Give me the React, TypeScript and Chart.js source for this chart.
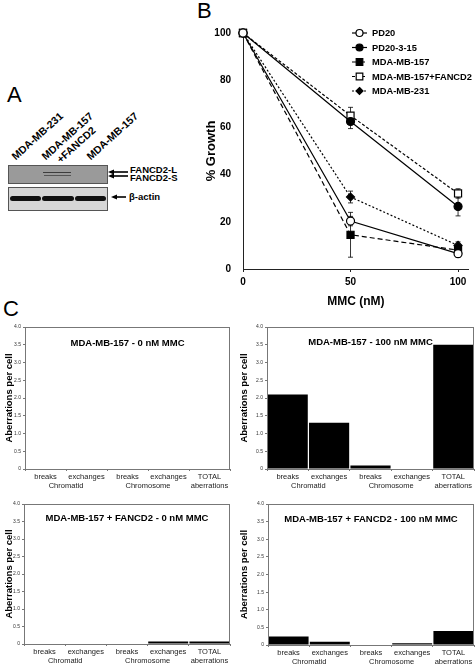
import React, { useEffect, useRef } from 'react';
import { Chart, registerables } from 'chart.js';
Chart.register(...registerables);

const FONT = "'Liberation Sans', Arial, Helvetica, sans-serif";

// ---------- Panel B data ----------
const mmcDoses = [0, 50, 100];
const doseTicks = [0, 50, 100];
const growthTicks = [0, 20, 40, 60, 80, 100];
const seriesNames = ['PD20', 'PD20-3-15', 'MDA-MB-157', 'MDA-MB-157+FANCD2', 'MDA-MB-231'];
const pd20 = [100, 20.3, 6.5];
const pd20Err = [0, 2, 1.5];
const pd20_3_15 = [100, 62.5, 26.5];
const pd20_3_15Err = [0, 3, 4];
const mda157 = [100, 14.5, 8];
const mda157Err = [0, 9.5, 2];
const mda157Fancd2 = [100, 65, 32];
const mda157Fancd2Err = [0, 3.5, 2];
const mda231 = [100, 30.5, 10];
const mda231Err = [0, 2.5, 1.5];

// ---------- Panel C data ----------
const aberrationCategories = ['breaks', 'exchanges', 'breaks', 'exchanges', 'TOTAL'];
const aberrationSubLabels = ['', '', '', '', 'aberrations'];
const aberrationGroups = ['Chromatid', 'Chromosome'];
const aberrationTicks = [0, 0.5, 1, 1.5, 2, 2.5, 3, 3.5, 4];
const mda157_0nM = [0, 0, 0, 0, 0];
const mda157_100nM = [2.1, 1.3, 0.1, 0, 3.5];
const mda157Fancd2_0nM = [0, 0, 0, 0.07, 0.07];
const mda157Fancd2_100nM = [0.24, 0.09, 0, 0.05, 0.4];

function ChartCanvas({ left, top, width, height, makeConfig }: any) {
  const ref = useRef<HTMLCanvasElement | null>(null);
  useEffect(() => {
    if (!ref.current) return;
    const chart = new Chart(ref.current, makeConfig());
    return () => chart.destroy();
  }, []);
  return (
    <canvas
      ref={ref}
      width={width}
      height={height}
      style={{ position: 'absolute', left, top, width, height }}
    />
  );
}

function lineConfig() {
  const values = [pd20, pd20_3_15, mda157, mda157Fancd2, mda231];
  const errors = [pd20Err, pd20_3_15Err, mda157Err, mda157Fancd2Err, mda231Err];
  const styles = [
    { dash: [], point: 'circle', r: 4, fill: '#fff' },
    { dash: [], point: 'circle', r: 4, fill: '#000' },
    { dash: [5, 3], point: 'rect', r: 5, fill: '#000' },
    { dash: [3, 2], point: 'rect', r: 5, fill: '#fff' },
    { dash: [2, 2], point: 'rectRot', r: 4, fill: '#000' },
  ];
  const datasets = values.map((vals, i) => ({
    label: seriesNames[i],
    data: mmcDoses.map((x, j) => ({ x, y: vals[j] })),
    borderColor: '#000',
    borderWidth: 1.2,
    borderDash: styles[i].dash,
    pointStyle: styles[i].point,
    pointRadius: styles[i].r,
    pointBackgroundColor: styles[i].fill,
    pointBorderColor: '#000',
    pointBorderWidth: 1.2,
    clip: false,
    tension: 0,
  }));

  const errorBars = {
    id: 'errorBars',
    beforeDatasetsDraw(chart: any) {
      const { ctx } = chart;
      const xs = chart.scales.x;
      const ys = chart.scales.y;
      ctx.save();
      ctx.strokeStyle = '#000';
      ctx.lineWidth = 0.8;
      values.forEach((vals, i) => {
        vals.forEach((v, j) => {
          const e = errors[i][j];
          if (!e) return;
          const x = xs.getPixelForValue(mmcDoses[j]);
          const y1 = ys.getPixelForValue(v + e);
          const y2 = ys.getPixelForValue(v - e);
          ctx.beginPath();
          ctx.moveTo(x, y1); ctx.lineTo(x, y2);
          ctx.moveTo(x - 2.5, y1); ctx.lineTo(x + 2.5, y1);
          ctx.moveTo(x - 2.5, y2); ctx.lineTo(x + 2.5, y2);
          ctx.stroke();
        });
      });
      ctx.restore();
    },
  };

  const legend = {
    id: 'customLegend',
    afterDraw(chart: any) {
      const { ctx } = chart;
      const x0 = 172, x1 = 187, tx = 192;
      ctx.save();
      ctx.font = `bold 9.3px ${FONT}`;
      ctx.textBaseline = 'middle';
      ctx.fillStyle = '#000';
      seriesNames.forEach((name, i) => {
        const y = 33 + i * 14.5;
        const st = styles[i];
        ctx.strokeStyle = '#000';
        ctx.lineWidth = 1.2;
        ctx.setLineDash(st.dash);
        ctx.beginPath(); ctx.moveTo(x0, y); ctx.lineTo(x1, y); ctx.stroke();
        ctx.setLineDash([]);
        const cx = (x0 + x1) / 2;
        ctx.beginPath();
        if (st.point === 'circle') ctx.arc(cx, y, 3.5, 0, Math.PI * 2);
        else if (st.point === 'rect') ctx.rect(cx - 3.3, y - 3.3, 6.6, 6.6);
        else { ctx.moveTo(cx, y - 3.5); ctx.lineTo(cx + 3.5, y); ctx.lineTo(cx, y + 3.5); ctx.lineTo(cx - 3.5, y); ctx.closePath(); }
        ctx.fillStyle = st.fill; ctx.fill(); ctx.stroke();
        ctx.fillStyle = '#000';
        ctx.fillText(name, tx, y + 0.5);
      });
      ctx.restore();
    },
  };

  return {
    type: 'line',
    data: { datasets },
    plugins: [errorBars, legend],
    options: {
      animation: false,
      responsive: false,
      maintainAspectRatio: false,
      layout: { padding: { top: 33, right: 1, left: 0, bottom: 0 } },
      plugins: { legend: { display: false }, tooltip: { enabled: false } },
      scales: {
        x: {
          type: 'linear',
          min: 0,
          max: 105,
          afterBuildTicks: (s: any) => { s.ticks = doseTicks.map((value) => ({ value })); },
          afterFit: (s: any) => { s.height = 51; },
          grid: { display: true, drawOnChartArea: false, drawTicks: true, tickLength: 3, color: '#222' },
          border: { display: true, color: '#222', width: 1 },
          ticks: { color: '#000', font: { family: FONT, size: 10, weight: 'bold' }, padding: 4, maxRotation: 0 },
          title: { display: true, text: 'MMC (nM)', color: '#000', font: { family: FONT, size: 12, weight: 'bold' }, padding: { top: 0, bottom: 11 } },
        },
        y: {
          min: 0,
          max: 100,
          afterBuildTicks: (s: any) => { s.ticks = growthTicks.map((value) => ({ value })); },
          afterFit: (s: any) => { s.width = 63; },
          grid: { display: false },
          border: { display: true, color: '#222', width: 1 },
          ticks: { color: '#000', font: { family: FONT, size: 10, weight: 'bold' }, padding: 4 },
          title: { display: true, text: '% Growth', color: '#000', font: { family: FONT, size: 13, weight: 'bold' }, padding: { top: 24, bottom: 0 } },
        },
      },
    },
  };
}

function barConfig(values: number[], title: string, yAxisW: number, xAxisH: number, padTop: number, padRight: number, titleDy: number) {
  const decorations = {
    id: 'decor',
    afterDraw(chart: any) {
      const { ctx, chartArea: a } = chart;
      const xs = chart.scales.x;
      ctx.save();
      ctx.strokeStyle = '#777';
      ctx.lineWidth = 1;
      ctx.strokeRect(a.left + 0.5, a.top + 0.5, a.right - a.left - 1, a.bottom - a.top);
      ctx.fillStyle = '#000';
      ctx.font = `bold 9.5px ${FONT}`;
      ctx.textAlign = 'center';
      ctx.textBaseline = 'middle';
      ctx.fillText(title, (a.left + a.right) / 2, a.top + titleDy);
      ctx.font = `7.5px ${FONT}`;
      ctx.fillStyle = '#222';
      aberrationGroups.forEach((g, k) => {
        const x = (xs.getPixelForValue(k * 2) + xs.getPixelForValue(k * 2 + 1)) / 2;
        ctx.fillText(g, x, a.bottom + 16.5);
      });
      ctx.font = `bold 9.5px ${FONT}`;
      ctx.fillStyle = '#000';
      ctx.translate(a.left - yAxisW + 9, (a.top + a.bottom) / 2);
      ctx.rotate(-Math.PI / 2);
      ctx.fillText('Aberrations per cell', 0, 0);
      ctx.restore();
    },
  };
  return {
    type: 'bar',
    data: {
      labels: aberrationCategories.map((c, i) => [c, aberrationSubLabels[i]]),
      datasets: [{ data: values, backgroundColor: '#000', borderWidth: 0, barPercentage: 0.97, categoryPercentage: 1 }],
    },
    plugins: [decorations],
    options: {
      animation: false,
      responsive: false,
      maintainAspectRatio: false,
      layout: { padding: { top: padTop, right: padRight, left: 0, bottom: 0 } },
      plugins: { legend: { display: false }, tooltip: { enabled: false } },
      scales: {
        x: {
          afterFit: (s: any) => { s.height = xAxisH; },
          grid: { display: true, drawOnChartArea: false, offset: true, drawTicks: true, tickLength: 2, color: '#777' },
          border: { display: true, color: '#777' },
          ticks: { color: '#222', font: { family: FONT, size: 7.5 }, padding: 1, maxRotation: 0, autoSkip: false },
        },
        y: {
          min: 0,
          max: 4,
          afterBuildTicks: (s: any) => { s.ticks = aberrationTicks.map((value) => ({ value })); },
          afterFit: (s: any) => { s.width = yAxisW; },
          grid: { display: true, drawOnChartArea: false, drawTicks: true, tickLength: 2, color: '#777' },
          border: { display: true, color: '#777' },
          ticks: { color: '#333', font: { family: FONT, size: 5 }, padding: 2 },
        },
      },
    },
  };
}

function Arrow({ x1, x2, y }: any) {
  return (
    <g>
      <line x1={x1 + 5} y1={y} x2={x2} y2={y} stroke="#000" strokeWidth={1.6} />
      <polygon points={`${x1},${y} ${x1 + 6},${y - 2.6} ${x1 + 6},${y + 2.6}`} fill="#000" />
    </g>
  );
}

function PanelA() {
  const lane = { position: 'absolute' as const, fontFamily: FONT, fontWeight: 'bold' as const, fontSize: 10.5, whiteSpace: 'nowrap' as const, transformOrigin: '0 100%', transform: 'rotate(-42deg)', lineHeight: '11px' };
  return (
    <>
      <div style={{ position: 'absolute', left: 7, top: 84, fontFamily: FONT, fontSize: 22, lineHeight: '22px' }}>A</div>
      <div style={{ ...lane, left: 17, top: 151 }}>MDA-MB-231</div>
      <div style={{ ...lane, left: 47, top: 151 }}>MDA-MB-157</div>
      <div style={{ ...lane, left: 62, top: 154 }}>+FANCD2</div>
      <div style={{ ...lane, left: 92, top: 151 }}>MDA-MB-157</div>
      <div style={{ position: 'absolute', left: 8, top: 165, width: 98, height: 17, background: '#9a9a9a', border: '1px solid #555' }}>
        <div style={{ position: 'absolute', left: 34, top: 5.5, width: 28, height: 1.6, background: 'rgba(30,30,30,0.75)', filter: 'blur(0.4px)' }} />
        <div style={{ position: 'absolute', left: 35, top: 9, width: 27, height: 1.4, background: 'rgba(40,40,40,0.6)', filter: 'blur(0.4px)' }} />
      </div>
      <div style={{ position: 'absolute', left: 8, top: 187, width: 98, height: 22, background: '#d6d6d6', border: '1px solid #555' }}>
        <div style={{ position: 'absolute', left: 1, top: 8, width: 31, height: 5, background: '#111', borderRadius: 3, filter: 'blur(0.6px)' }} />
        <div style={{ position: 'absolute', left: 33, top: 8, width: 32, height: 5, background: '#111', borderRadius: 3, filter: 'blur(0.6px)' }} />
        <div style={{ position: 'absolute', left: 66, top: 8, width: 31, height: 5, background: '#111', borderRadius: 3, filter: 'blur(0.6px)' }} />
      </div>
      <svg style={{ position: 'absolute', left: 0, top: 0 }} width={140} height={220}>
        <Arrow x1={108} x2={128} y={172} />
        <Arrow x1={108} x2={128} y={176} />
        <Arrow x1={111} x2={126} y={197} />
      </svg>
      <div style={{ position: 'absolute', left: 130, top: 165, fontFamily: FONT, fontWeight: 'bold', fontSize: 9.5, lineHeight: '9px' }}>FANCD2-L</div>
      <div style={{ position: 'absolute', left: 130, top: 173, fontFamily: FONT, fontWeight: 'bold', fontSize: 9.5, lineHeight: '9px' }}>FANCD2-S</div>
      <div style={{ position: 'absolute', left: 129, top: 192, fontFamily: FONT, fontWeight: 'bold', fontSize: 9.5, lineHeight: '10px' }}>β-actin</div>
    </>
  );
}

export default function App() {
  return (
    <div style={{ position: 'absolute', left: 0, top: 0, width: 475, height: 665, background: '#fff', overflow: 'hidden' }}>
      <PanelA />
      <div style={{ position: 'absolute', left: 197, top: 0, fontFamily: FONT, fontSize: 22, lineHeight: '22px' }}>B</div>
      <ChartCanvas left={180} top={0} width={295} height={320} makeConfig={lineConfig} />
      <div style={{ position: 'absolute', left: 3, top: 298, fontFamily: FONT, fontSize: 22, lineHeight: '22px' }}>C</div>
      <ChartCanvas left={0} top={305} width={235} height={190} makeConfig={() => barConfig(mda157_0nM, 'MDA-MB-157 - 0 nM MMC', 25, 26, 22, 5, 16)} />
      <ChartCanvas left={235} top={305} width={240} height={190} makeConfig={() => barConfig(mda157_100nM, 'MDA-MB-157 - 100 nM MMC', 32, 26, 22, 1, 15)} />
      <ChartCanvas left={0} top={495} width={235} height={170} makeConfig={() => barConfig(mda157Fancd2_0nM, 'MDA-MB-157 + FANCD2 - 0 nM MMC', 24, 21, 9, 5, 14)} />
      <ChartCanvas left={235} top={495} width={240} height={170} makeConfig={() => barConfig(mda157Fancd2_100nM, 'MDA-MB-157 + FANCD2 - 100 nM MMC', 33, 20, 9, 1, 15)} />
    </div>
  );
}
